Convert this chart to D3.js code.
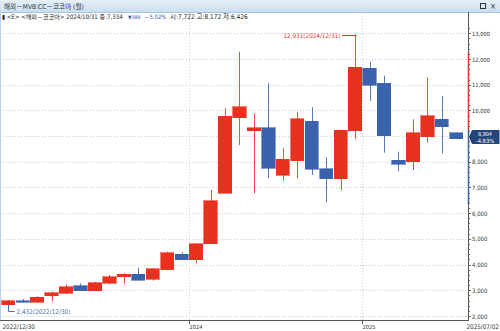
<!DOCTYPE html>
<html><head><meta charset="utf-8">
<script src="https://cdn.jsdelivr.net/npm/d3@7/dist/d3.min.js"></script>
<style>
html,body{margin:0;padding:0;background:#fff;}
svg{display:block;}
text{font-family:"Liberation Sans Narrow","DejaVu Sans Condensed","Noto Sans CJK KR",sans-serif;}
</style></head>
<body>
<svg id="c" width="500" height="331"></svg>
<script>
// ---- data (monthly OHLC, 해외-코코아) ----
const months = ["2022/12","2023/01","2023/02","2023/03","2023/04","2023/05","2023/06","2023/07","2023/08","2023/09","2023/10","2023/11","2023/12",
 "2024/01","2024/02","2024/03","2024/04","2024/05","2024/06","2024/07","2024/08","2024/09","2024/10","2024/11","2024/12",
 "2025/01","2025/02","2025/03","2025/04","2025/05","2025/06","2025/07"];
const open  = [2432,2584,2533,2790,2883,3179,2984,3272,3529,3622,3428,3790,4412,4179,4802,6774,9716,9210,9327,7486,8034,9576,7722,7334,9210,11638,11055,8070,8004,8977,9654,9132];
const high  = [2623,2660,2767,2945,3233,3272,3335,3595,3661,3879,3856,4500,4479,4829,6903,10082,12284,9887,11055,8525,9949,10121,8172,9237,12931,11895,11350,8393,9654,11288,10560,9132];
const low   = [2432,2520,2520,2584,2844,2973,2984,3233,3233,3400,3373,3790,4179,4050,4802,6774,8654,6774,7358,7265,7358,7486,6426,6903,8875,10366,8354,7642,7681,8759,8331,8904];
const close = [2584,2533,2728,2907,3140,2984,3296,3529,3622,3400,3829,4463,4179,4802,6486,9782,10144,9327,7747,8097,9677,7708,7334,9237,11677,10988,9004,7903,9132,9794,9356,8904];
const yTicks = [2000,3000,4000,5000,6000,7000,8000,9000,10000,11000,12000,13000];
const xLabels = [{m:"2024/01",t:"2024"},{m:"2025/01",t:"2025"}];

const RED="#e8321f", BLUE="#3a62ad";
const svg=d3.select("#c");
const W=500,H=331, axisX=468, axisY=320;

// size a text so that its natural width equals w (capped)
function fit(sel,w,maxSize){
  sel.attr("font-size",10);
  const L=sel.node().getComputedTextLength();
  let fs=10*w/L; if(maxSize&&fs>maxSize) fs=maxSize;
  sel.attr("font-size",fs);
  return sel;
}

// header bar
const g0=svg.append("defs").append("linearGradient").attr("id","hb").attr("x1",0).attr("x2",0).attr("y1",0).attr("y2",1);
g0.append("stop").attr("offset","0").attr("stop-color","#e6f0f9");
g0.append("stop").attr("offset","1").attr("stop-color","#c9def0");
svg.append("rect").attr("x",0).attr("y",0).attr("width",W).attr("height",12).attr("fill","url(#hb)");
svg.append("line").attr("x1",0).attr("x2",W).attr("y1",12.5).attr("y2",12.5).attr("stroke","#a9c4de");
fit(svg.append("text").attr("x",4).attr("y",9).attr("fill","#333").attr("font-family","Noto Sans CJK KR")
  .text("해외－MVB:CC－코코아 (월)"),80,8);
svg.append("rect").attr("x",480.5).attr("y",3.5).attr("width",5).attr("height",5).attr("fill","none").attr("stroke","#333");
svg.append("text").attr("x",490).attr("y",9).attr("font-size",8).attr("fill","#333").attr("font-family","DejaVu Sans").text("×");

// left border
svg.append("line").attr("x1",0.5).attr("x2",0.5).attr("y1",12).attr("y2",axisY).attr("stroke","#b9cfe6");

// scales
const x=d3.scaleBand().domain(months).range([1,463.5]).paddingInner(0.08).paddingOuter(0.04);
const y=d3.scaleLinear().domain([2000,13000]).range([316,33.3]);
const edge=m=>Math.round(x(m)-x.step()*x.paddingInner()/2)+0.5;

// grid
svg.append("g").selectAll("line").data(yTicks).join("line")
  .attr("x1",0).attr("x2",axisX).attr("y1",d=>Math.round(y(d))+0.5).attr("y2",d=>Math.round(y(d))+0.5)
  .attr("stroke","#c8ccd4").attr("stroke-dasharray","1,2");
svg.append("g").selectAll("line").data(xLabels).join("line")
  .attr("x1",d=>edge(d.m)).attr("x2",d=>edge(d.m))
  .attr("y1",13).attr("y2",axisY).attr("stroke","#c8ccd4").attr("stroke-dasharray","1,2");

// info line
const infoSeg=[
  {x:2,w:121,c:"#222",t:"▮ <E> <해외－코코아> 2024/10/31 종:7,334"},
  {x:128,w:12.5,c:BLUE,t:"▼388"},
  {x:143.5,w:23,c:BLUE,t:"－5.02%"},
  {x:170,w:78,c:"#222",t:"시:7,722 고:8,172 저:6,426"}];
infoSeg.forEach(d=>{
  fit(svg.append("text").attr("x",d.x).attr("y",19).attr("font-family","Noto Sans CJK KR").attr("fill",d.c).text(d.t),d.w,7.5);
});

// candles
const data=months.map((m,i)=>({m,o:open[i],h:high[i],l:low[i],c:close[i]}));
const cg=svg.append("g");
data.forEach(d=>{
  const col=d.c>=d.o?RED:BLUE;
  const cx=Math.round(x(d.m)+x.bandwidth()/2)+0.5;
  cg.append("line").attr("x1",cx).attr("x2",cx).attr("y1",y(d.h)).attr("y2",y(d.l)).attr("stroke",col).attr("stroke-width",1).attr("stroke-opacity",0.85);
  const top=y(Math.max(d.o,d.c)), bot=y(Math.min(d.o,d.c));
  cg.append("rect").attr("x",x(d.m)).attr("width",x.bandwidth()).attr("y",top).attr("height",Math.max(1.5,bot-top))
    .attr("fill",col).attr("stroke",col).attr("stroke-width",0.6).attr("shape-rendering","crispEdges");
});

// last price position (tick labels hidden behind its box are not drawn, as in the reference)
const lp=close[close.length-1], ly=Math.round(y(lp))-2;

// right axis
svg.append("line").attr("x1",axisX+0.5).attr("x2",axisX+0.5).attr("y1",12).attr("y2",axisY).attr("stroke","#555");
svg.append("line").attr("x1",axisX+0.5).attr("x2",axisX+0.5).attr("y1",52).attr("y2",130).attr("stroke",RED).attr("stroke-width",1.5);
svg.append("line").attr("x1",axisX+0.5).attr("x2",axisX+0.5).attr("y1",130).attr("y2",204).attr("stroke",BLUE).attr("stroke-width",1.5);
const minor=d3.range(2000,13201,200);
svg.append("g").selectAll("line").data(minor).join("line")
  .attr("x1",axisX).attr("x2",d=>axisX+(d%1000===0?3:2)).attr("y1",d=>Math.round(y(d))+0.5).attr("y2",d=>Math.round(y(d))+0.5)
  .attr("stroke","#666");
yTicks.filter(d=>Math.abs(y(d)-ly)>9).forEach(d=>{
  fit(svg.append("text").attr("x",472).attr("y",y(d)+2.5).attr("fill","#333").text(d3.format(",")(d)),d>=10000?18:15.5,8);
});

// bottom axis
svg.append("line").attr("x1",0).attr("x2",axisX+1).attr("y1",axisY+0.5).attr("y2",axisY+0.5).attr("stroke","#555");
xLabels.forEach(d=>{
  const px=edge(d.m);
  svg.append("line").attr("x1",px).attr("x2",px).attr("y1",axisY).attr("y2",axisY+4).attr("stroke","#555");
  fit(svg.append("text").attr("x",px).attr("y",328.5).attr("fill","#333").text(d.t),13,8);
});
fit(svg.append("text").attr("x",2.5).attr("y",328.5).attr("fill","#333").text("2022/12/30"),32.5,8);
fit(svg.append("text").attr("x",466.5).attr("y",328.5).attr("fill","#333").text("2025/07/02"),32.5,8);

// last price label
svg.append("path").attr("d",`M${axisX+1},${ly} L${axisX+4},${ly-7} L499.5,${ly-7} L499.5,${ly+7} L${axisX+4},${ly+7} Z`).attr("fill","#24457a");
fit(svg.append("text").attr("x",485).attr("y",ly-1.2).attr("text-anchor","middle").attr("fill","#fff").text(d3.format(",")(lp)),14,5.8);
fit(svg.append("text").attr("x",485).attr("y",ly+5.6).attr("text-anchor","middle").attr("fill","#fff").text("-4.83%"),20,5.8);

// max annotation
const iMax=d3.maxIndex(high), mx=Math.round(x(months[iMax])+x.bandwidth()/2)+0.5, my=Math.round(y(high[iMax]))+0.5;
svg.append("line").attr("x1",342).attr("x2",mx).attr("y1",my).attr("y2",my).attr("stroke",RED);
svg.append("circle").attr("cx",mx).attr("cy",my).attr("r",1).attr("fill",RED);
fit(svg.append("text").attr("x",283.5).attr("y",my+2.5).attr("fill",RED)
  .text(d3.format(",")(high[iMax])+"(2024/12/31)"),57,8);

// min annotation
const iMin=d3.minIndex(low), nx=Math.round(x(months[iMin])+x.bandwidth()/2)+0.5, ny=y(low[iMin]);
svg.append("path").attr("d",`M${nx},${ny} L${nx},${311.5} L${nx+6},${311.5}`).attr("fill","none").attr("stroke","#4a6fb0");
fit(svg.append("text").attr("x",16.5).attr("y",314).attr("fill","#4a6fb0")
  .text(d3.format(",")(low[iMin])+"(2022/12/30)"),54,8);
</script>
</body></html>
